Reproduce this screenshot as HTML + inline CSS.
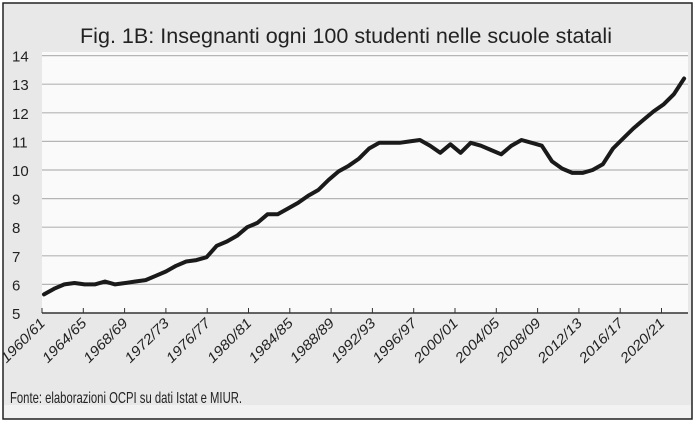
<!DOCTYPE html><html><head><meta charset="utf-8"><style>
body{margin:0;background:#fff}
svg{display:block;font-family:"Liberation Sans",sans-serif}
</style></head><body>
<svg id="s" width="695" height="422" viewBox="0 0 695 422">
<rect x="0" y="0" width="695" height="422" fill="#fff"/>
<rect x="3" y="3" width="689" height="416" fill="#e8e8e8" stroke="#222" stroke-width="1.5"/>
<rect x="4" y="405" width="687" height="13" fill="#f2f2f2"/>
<rect x="42" y="52" width="646" height="261" fill="#fafafa"/>
<text x="80" y="43" font-size="21" textLength="532" lengthAdjust="spacingAndGlyphs" fill="#222">Fig. 1B: Insegnanti ogni 100 studenti nelle scuole statali</text>
<g id="g"></g>
<text x="10" y="403" font-size="16" textLength="232" lengthAdjust="spacingAndGlyphs" fill="#222">Fonte: elaborazioni OCPI su dati Istat e MIUR.</text>
</svg>
<script>
var g=document.getElementById('g'),h='';
for(var v=5;v<=14;v++){var y=313-28.6*(v-5);
if(v>5)h+='<line x1="42" x2="688" y1="'+y+'" y2="'+y+'" stroke="#b5b5b5" stroke-width="1.2"/>';
h+='<text x="12" y="'+(y+6)+'" font-size="15" fill="#222">'+v+'</text>';}
h+='<line x1="42" x2="688" y1="313" y2="313" stroke="#333" stroke-width="1.5"/>';
for(var i=0;i<16;i++){var x=42+41.3*i;h+='<line x1="'+x+'" x2="'+x+'" y1="308" y2="313" stroke="#333"/>';
var yr=1960+4*i,lb=yr+'/'+String((yr+1)%100).padStart(2,'0');
h+='<text transform="translate('+(x+4)+',324) rotate(-45)" font-size="14" font-style="italic" textLength="56" lengthAdjust="spacingAndGlyphs" text-anchor="end" fill="#222">'+lb+'</text>';}
var d=[5.65,5.85,6.0,6.05,6.0,6.0,6.1,6.0,6.05,6.1,6.15,6.3,6.45,6.65,6.8,6.85,6.95,7.35,7.5,7.7,8.0,8.15,8.45,8.45,8.65,8.85,9.1,9.3,9.65,9.95,10.15,10.4,10.75,10.95,10.95,10.95,11.0,11.05,10.85,10.6,10.9,10.6,10.95,10.85,10.7,10.55,10.85,11.05,10.95,10.85,10.3,10.05,9.9,9.9,10.0,10.2,10.75,11.1,11.45,11.75,12.05,12.3,12.65,13.2];
var p=d.map(function(v,i){return (44+10.16*i).toFixed(1)+','+(313-28.6*(v-5)).toFixed(1)}).join(' ');
h+='<polyline points="'+p+'" fill="none" stroke="#1a1a1a" stroke-width="4" stroke-linejoin="round" stroke-linecap="round"/>';
g.innerHTML=h;
</script>
</body></html>
